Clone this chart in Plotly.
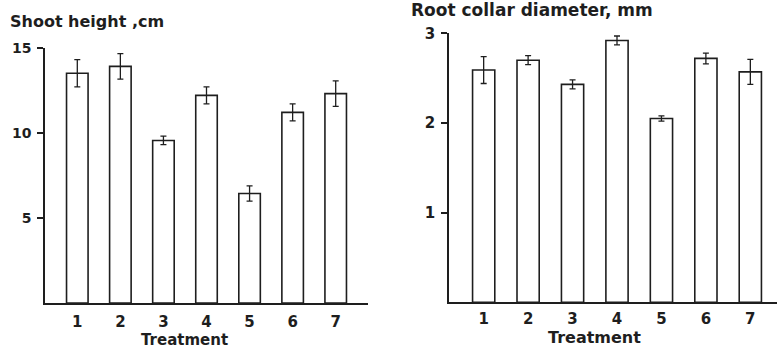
import plotly.graph_objects as go

# ---- data ----
treatments = [1, 2, 3, 4, 5, 6, 7]
tick_labels = ["1", "2", "3", "4", "5", "6", "7"]
shoot_height = [13.5, 13.9, 9.55, 12.2, 6.43, 11.2, 12.3]
shoot_err = [0.8, 0.75, 0.25, 0.5, 0.45, 0.5, 0.75]
root_diam = [2.59, 2.70, 2.43, 2.92, 2.05, 2.72, 2.57]
root_err = [0.15, 0.05, 0.05, 0.05, 0.03, 0.06, 0.14]
shoot_ticks = [5, 10, 15]
root_ticks = [1, 2, 3]

W, H = 777, 352
INK = "#1e1e1e"
FONT = "DejaVu Sans"


def px_x(p):
    return p / W


def px_y(p):
    return 1 - p / H


fig = go.Figure()

fig.add_trace(go.Bar(
    x=treatments, y=shoot_height, width=0.5,
    marker=dict(color="white", line=dict(color=INK, width=1.6)),
    error_y=dict(type="data", array=shoot_err, visible=True,
                 color=INK, thickness=1.3, width=3),
    xaxis="x", yaxis="y", showlegend=False,
))
fig.add_trace(go.Bar(
    x=treatments, y=root_diam, width=0.5,
    marker=dict(color="white", line=dict(color=INK, width=1.6)),
    error_y=dict(type="data", array=root_err, visible=True,
                 color=INK, thickness=1.3, width=3),
    xaxis="x2", yaxis="y2", showlegend=False,
))

axis_common = dict(showgrid=False, zeroline=False, showline=True,
                   linecolor=INK, linewidth=1.6, fixedrange=True,
                   automargin=False)

fig.update_layout(
    width=W, height=H,
    margin=dict(l=0, r=0, t=0, b=0),
    paper_bgcolor="white", plot_bgcolor="white",
    bargap=0.5,
    xaxis=dict(domain=[px_x(45), px_x(368)], range=[0.25, 7.75],
               tickvals=treatments, ticktext=tick_labels, ticks="",
               ticklabelstandoff=4,
               tickfont=dict(family=FONT, size=15, color=INK, weight="bold"),
               anchor="y", **axis_common),
    yaxis=dict(domain=[px_y(303), px_y(47.7)], range=[0, 15],
               tickvals=shoot_ticks, ticks="outside", ticklen=6,
               tickwidth=1.5, tickcolor=INK, ticklabelstandoff=3,
               tickfont=dict(family=FONT, size=14, color=INK, weight="bold"),
               anchor="x", **axis_common),
    xaxis2=dict(domain=[px_x(449), 1.0], range=[0.22, 7.6],
                tickvals=treatments, ticktext=tick_labels, ticks="",
                ticklabelstandoff=2,
                tickfont=dict(family=FONT, size=15, color=INK, weight="bold"),
                anchor="y2", **axis_common),
    yaxis2=dict(domain=[px_y(302.3), px_y(33.3)], range=[0, 3],
                tickvals=root_ticks, ticks="outside", ticklen=6,
                tickwidth=1.5, tickcolor=INK, ticklabelstandoff=3,
                tickfont=dict(family=FONT, size=15, color=INK, weight="bold"),
                anchor="x2", **axis_common),
)

annots = [
    dict(text="Shoot height ,cm", x=px_x(8), y=px_y(21), size=16,
         xanchor="left"),
    dict(text="Root collar diameter, mm", x=px_x(409), y=px_y(10.5), size=17,
         xanchor="left"),
    dict(text="Treatment", x=px_x(184), y=px_y(340), size=15,
         xanchor="center"),
    dict(text="Treatment", x=px_x(594), y=px_y(337.5), size=16,
         xanchor="center"),
]
for a in annots:
    fig.add_annotation(
        text=a["text"], x=a["x"], y=a["y"], xref="paper", yref="paper",
        xanchor=a["xanchor"], yanchor="middle", showarrow=False,
        font=dict(family=FONT, size=a["size"], color=INK, weight="bold"),
    )

fig.write_html("out.html")
